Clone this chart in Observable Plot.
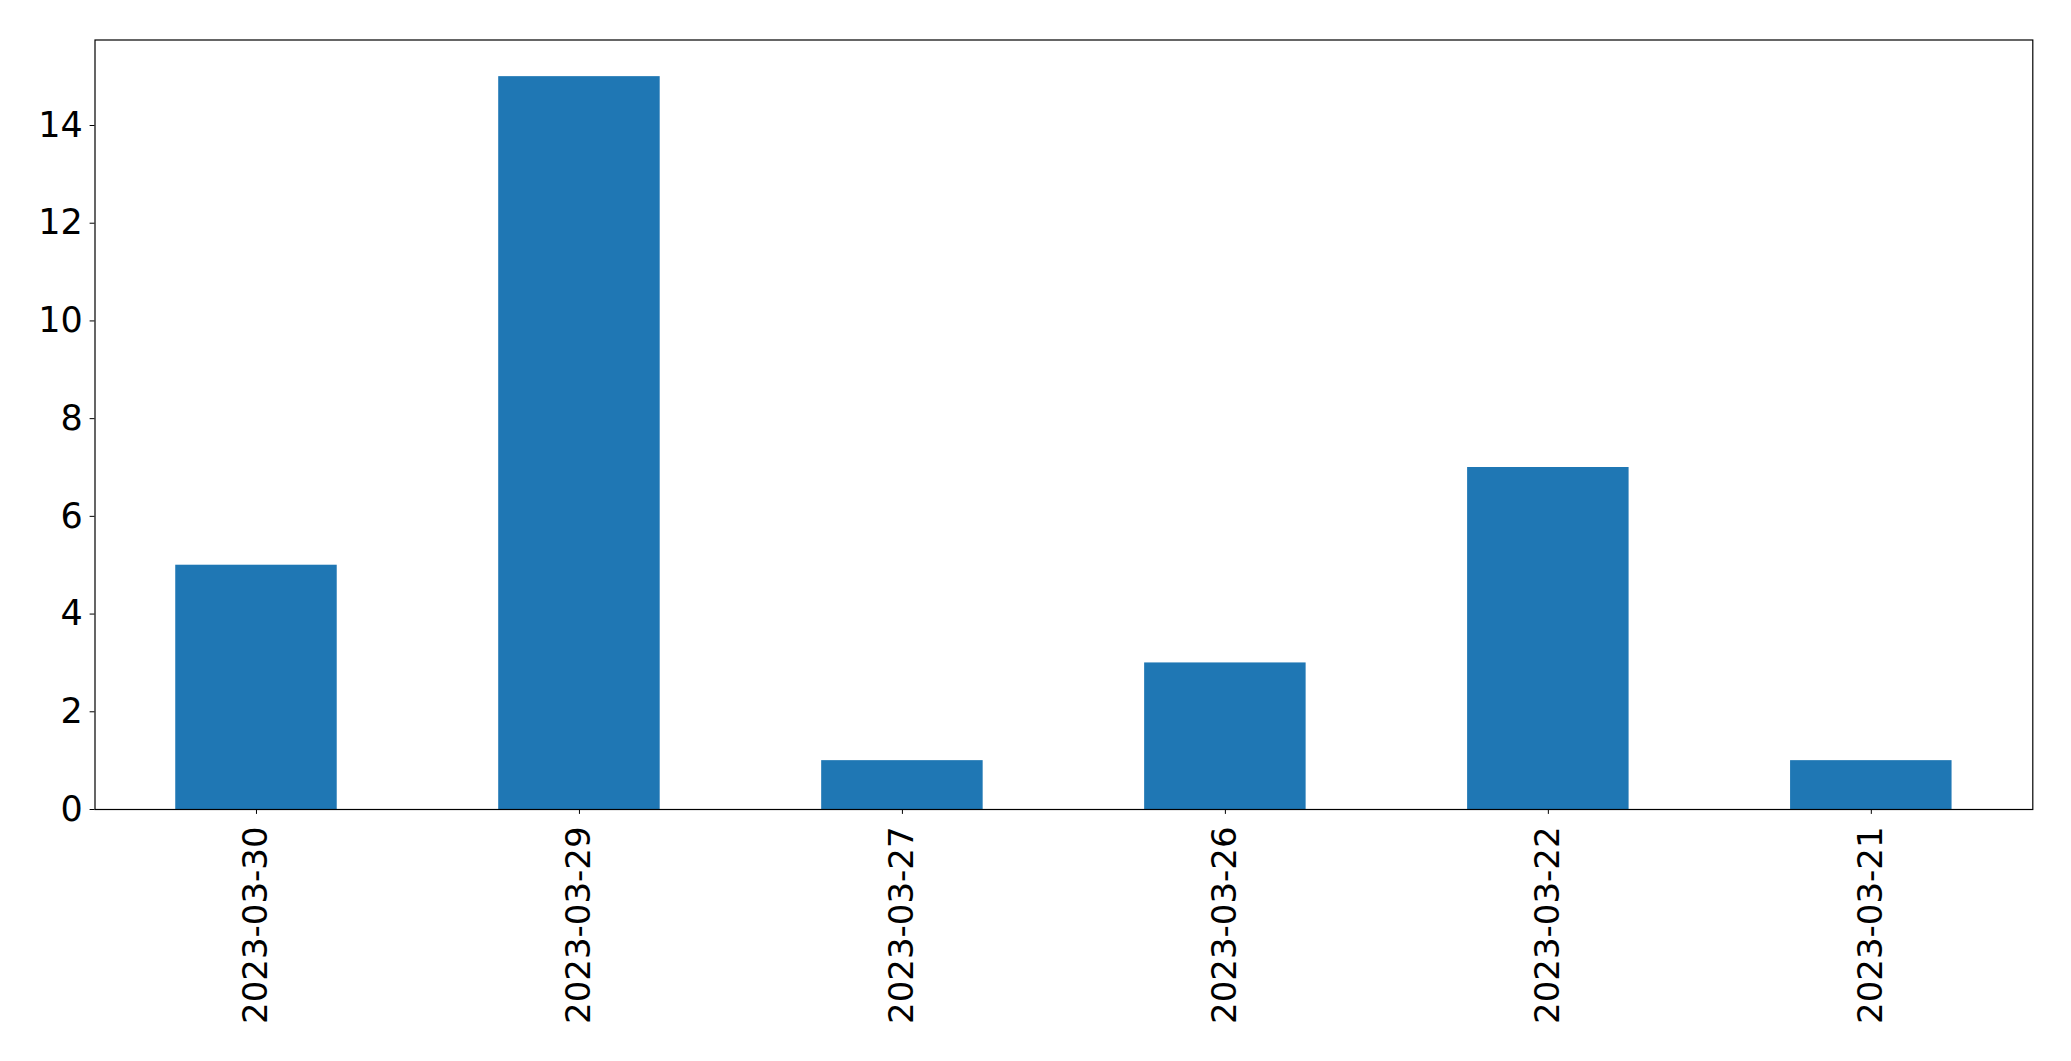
<!DOCTYPE html>
<html>
<head>
<meta charset="utf-8">
<script src="https://cdn.jsdelivr.net/npm/d3@7"></script>
<script src="https://cdn.jsdelivr.net/npm/@observablehq/plot@0.6"></script>
<style>
  html, body { margin: 0; padding: 0; background: white; }
</style>
</head>
<body>
<div id="chart"></div>
<script>
const dates = ["2023-03-30", "2023-03-29", "2023-03-27", "2023-03-26", "2023-03-22", "2023-03-21"];
const counts = [5, 15, 1, 3, 7, 1];
const yTicks = [0, 2, 4, 6, 8, 10, 12, 14];

const data = dates.map((d, i) => ({date: d, count: counts[i]}));

const chart = Plot.plot({
  width: 2071,
  height: 1061,
  marginLeft: 94.5,
  marginRight: 38.7,
  marginTop: 39.5,
  marginBottom: 252,
  style: {fontFamily: "DejaVu Sans", fontSize: "34px", background: "white", color: "black"},
  x: {type: "band", domain: dates, paddingInner: 0.5, paddingOuter: 0.25, round: false},
  y: {domain: [0, 15.75]},
  marks: [
    Plot.barY(data, {x: "date", y: "count", fill: "#1f77b4"}),
    Plot.axisY({ticks: yTicks, tickSize: 4.9, tickPadding: 7.3, fontSize: 35, label: null, tickFormat: d => String(d), stroke: "black", fill: "black"}),
    Plot.axisX({tickSize: 4.9, tickPadding: 12, tickRotate: -90, fontSize: 34, label: null, stroke: "black", fill: "black"}),
    Plot.frame({stroke: "black", strokeWidth: 1.2, strokeOpacity: 1})
  ]
});
document.getElementById("chart").appendChild(chart);
</script>
</body>
</html>
